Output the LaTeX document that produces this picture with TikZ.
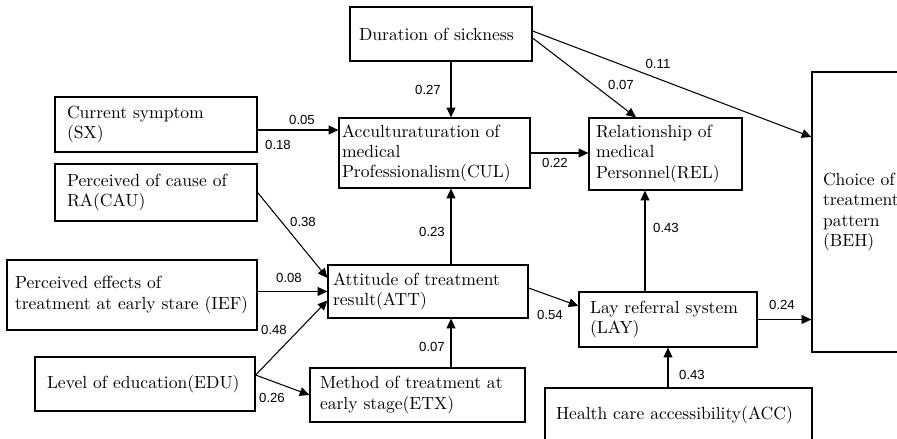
\documentclass[tikz,border=0pt]{standalone}
\usepackage{fontspec}
\newfontfamily\coeffont{Liberation Sans}
\usetikzlibrary{arrows.meta}
\tikzset{
  box/.style={draw, line width=0.7pt, align=left, inner ysep=0pt, font=\fontsize{10}{11.4}\selectfont},
  coef/.style={font=\coeffont\fontsize{7.5}{9}\selectfont, inner sep=0pt},
  arr/.style={line width=0.6pt, -{Triangle[length=5.5pt,width=5pt]}}
}

\begin{document}
\begin{tikzpicture}[x=0.02cm, y=-0.02cm]
  \useasboundingbox (0,0) rectangle (897,439);
  \clip (0,0) rectangle (897,439);
  % Causes
  \node[box, minimum width=3.64cm, minimum height=1.08cm, inner xsep=0.18cm, text width=3.28cm] (dur) at (441,34) {Duration of sickness};
  \node[box, minimum width=4.04cm, minimum height=1.1cm, inner xsep=0.24cm, text width=3.56cm] (sx) at (156,124.5) {Current symptom\\(SX)};
  \node[box, minimum width=4.04cm, minimum height=1.14cm, inner xsep=0.24cm, text width=3.56cm] (cau) at (156,192.5) {Perceived of cause of\\RA(CAU)};
  \node[box, minimum width=5cm, minimum height=1.4cm, inner xsep=0.16cm, text width=4.68cm] (ief) at (132,295) {Perceived effects of\\treatment at early stare (IEF)};
  \node[box, minimum width=4.4cm, minimum height=1.08cm, inner xsep=0.24cm, text width=3.92cm] (edu) at (145,384) {Level of education(EDU)};
  \node[box, minimum width=5.34cm, minimum height=1.08cm, inner xsep=0.22cm, text width=4.9cm] (acc) at (678.5,415) {Health care accessibility(ACC)};
  % Mediators
  \node[box, minimum width=3.82cm, minimum height=1.4cm, inner xsep=0.06cm, text width=3.7cm] (cul) at (434.5,153) {Acculturaturation of\\medical\\Professionalism(CUL)};
  \node[box, minimum width=3.06cm, minimum height=1.44cm, inner xsep=0.14cm, text width=2.78cm] (rel) at (665.5,154) {Relationship of\\medical\\Personnel(REL)};
  \node[box, minimum width=4cm, minimum height=1.06cm, inner xsep=0.1cm, text width=3.8cm] (att) at (428,291.5) {Attitude of treatment\\result(ATT)};
  \node[box, minimum width=4.3cm, minimum height=1.08cm, inner xsep=0.2cm, text width=3.9cm] (etx) at (417.5,395) {Method of treatment at\\early stage(ETX)};
  \node[box, minimum width=3.56cm, minimum height=1.1cm, inner xsep=0.22cm, text width=3.12cm] (lay) at (668,319.5) {Lay referral system\\(LAY)};
  % Outcome
  \node[box, minimum width=2.2cm, minimum height=5.6cm, inner xsep=0.22cm, text width=1.76cm] (beh) at (867,212) {Choice of\\treatment\\pattern\\(BEH)};
  % Paths
  \draw[arr] ([xshift=0.2cm]dur.south) -- ([xshift=0.2cm]dur.south |- cul.north);
  \draw[arr] ([yshift=-0.08cm]dur.east) -- ([xshift=-0.59cm]rel.north);
  \draw[arr] ([yshift=0.06cm]dur.east) -- ([yshift=1.5cm]beh.west);
  \draw[arr] ([yshift=-0.11cm]sx.east) -- ([yshift=-0.11cm]sx.east -| cul.west);
  \draw[arr] (cul.east) -- (cul.east -| rel.west);
  \draw[arr] (cau.east) -- ([yshift=0.27cm]att.west);
  \draw[arr] (ief.east |- att.west) -- (att.west);
  \draw[arr] ([yshift=0.18cm]edu.east) -- ([yshift=-0.18cm]att.west);
  \draw[arr] ([yshift=0.18cm]edu.east) -- (etx.west);
  \draw[arr] ([xshift=0.67cm]etx.north) -- ([xshift=0.67cm]etx.north |- att.south);
  \draw[arr] ([xshift=0.46cm]att.north) -- ([xshift=0.46cm]att.north |- cul.south);
  \draw[arr] ([yshift=0.07cm]att.east) -- ([yshift=0.27cm]lay.west);
  \draw[arr] ([xshift=-0.46cm]lay.north) -- ([xshift=-0.46cm]lay.north |- rel.south);
  \draw[arr] (lay.east) -- (lay.east -| beh.west);
  \draw[arr] (lay.south |- acc.north) -- (lay.south);
  % Coefficients
  \node[coef] (k27) at (428,90) {0.27};
  \node[coef] (k05) at (302,120) {0.05};
  \node[coef] (k18) at (278,145) {0.18};
  \node[coef] (k07a) at (621,85) {0.07};
  \node[coef] (k11) at (658,64) {0.11};
  \node[coef] (k22) at (555,163) {0.22};
  \node[coef] (k38) at (303,222) {0.38};
  \node[coef] (k23) at (432,232) {0.23};
  \node[coef] (k43a) at (666,228) {0.43};
  \node[coef] (k08) at (289,278) {0.08};
  \node[coef] (k24) at (782,305) {0.24};
  \node[coef] (k54) at (550,315) {0.54};
  \node[coef] (k48) at (274,330) {0.48};
  \node[coef] (k07b) at (432,347) {0.07};
  \node[coef] (k43b) at (692,375) {0.43};
  \node[coef] (k26) at (272,398) {0.26};
\end{tikzpicture}
\end{document}
